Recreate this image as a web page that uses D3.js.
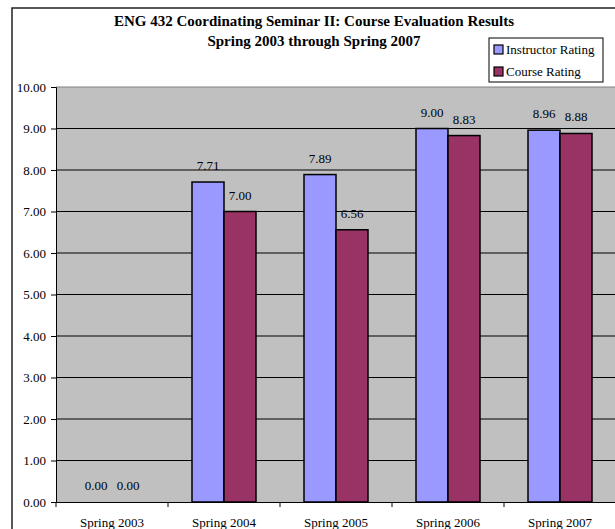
<!DOCTYPE html>
<html>
<head>
<meta charset="utf-8">
<script src="https://cdn.jsdelivr.net/npm/d3@7"></script>
<style>
  body { margin: 0; background: #fff; }
  svg { display: block; font-family: "Liberation Serif", "Times New Roman", serif; }
</style>
</head>
<body>
<svg id="chart"></svg>
<script>
const semesters = ["Spring 2003", "Spring 2004", "Spring 2005", "Spring 2006", "Spring 2007"];
const seriesNames = ["Instructor Rating", "Course Rating"];
const instructorRating = [0.00, 7.71, 7.89, 9.00, 8.96];
const courseRating = [0.00, 7.00, 6.56, 8.83, 8.88];
const yTicks = [0, 1, 2, 3, 4, 5, 6, 7, 8, 9, 10];
const colors = ["#9999FF", "#993366"];

const width = 615, height = 529;
const plot = { left: 56, right: 616, top: 87, bottom: 502 };

const svg = d3.select("#chart").attr("width", width).attr("height", height);

// outer chart border
svg.append("rect")
  .attr("x", 12).attr("y", 8)
  .attr("width", 700).attr("height", 600)
  .attr("fill", "#fff").attr("stroke", "#222").attr("stroke-width", 1.5);

const x0 = d3.scaleBand().domain(semesters).range([plot.left, plot.right]).padding(0);
const x1 = d3.scaleBand().domain(seriesNames).range([24, 88]).padding(0);
const y = d3.scaleLinear().domain([0, 10]).range([plot.bottom, plot.top]);

// plot area
svg.append("rect")
  .attr("x", plot.left).attr("y", plot.top)
  .attr("width", plot.right - plot.left).attr("height", plot.bottom - plot.top)
  .attr("fill", "#C0C0C0");

// gridlines
svg.append("g")
  .selectAll("line")
  .data(yTicks.slice(1))
  .join("line")
  .attr("x1", plot.left).attr("x2", plot.right)
  .attr("y1", d => y(d)).attr("y2", d => y(d))
  .attr("stroke", d => d === 10 ? "#808080" : "#000")
  .attr("stroke-width", 1);

// y axis
const yAxis = svg.append("g")
  .attr("transform", `translate(${plot.left},0)`)
  .call(d3.axisLeft(y).tickValues(yTicks).tickFormat(d3.format(".2f")).tickSize(5).tickPadding(5));
yAxis.select(".domain").attr("stroke", "#000");
yAxis.selectAll(".tick line").attr("stroke", "#000");
yAxis.selectAll("text").attr("font-size", 13).attr("font-family", "Liberation Serif").attr("fill", "#000");

// bars
const data = semesters.map((s, i) => ({ sem: s, values: [instructorRating[i], courseRating[i]] }));

const groups = svg.append("g")
  .selectAll("g")
  .data(data)
  .join("g")
  .attr("transform", d => `translate(${x0(d.sem)},0)`);

groups.selectAll("rect")
  .data(d => d.values.map((v, j) => ({ name: seriesNames[j], v: v, j: j })))
  .join("rect")
  .filter(d => d.v > 0)
  .attr("x", d => x1(d.name))
  .attr("y", d => y(d.v))
  .attr("width", x1.bandwidth())
  .attr("height", d => y(0) - y(d.v))
  .attr("fill", d => colors[d.j])
  .attr("stroke", "#000")
  .attr("stroke-width", 1.5);

groups.selectAll("text")
  .data(d => d.values.map((v, j) => ({ name: seriesNames[j], v: v })))
  .join("text")
  .attr("x", d => x1(d.name) + x1.bandwidth() / 2)
  .attr("y", d => y(d.v) - 12)
  .attr("text-anchor", "middle")
  .attr("font-size", 13)
  .text(d => d3.format(".2f")(d.v));

// x axis
const xAxis = svg.append("g")
  .attr("transform", `translate(0,${plot.bottom})`)
  .call(d3.axisBottom(x0).tickSize(0).tickPadding(0));
xAxis.select(".domain").attr("stroke", "#000");
xAxis.selectAll("text")
  .attr("dy", null).attr("y", 25)
  .attr("font-size", 13).attr("font-family", "Liberation Serif").attr("fill", "#000");
xAxis.selectAll(".sep")
  .data(semesters)
  .join("line")
  .attr("class", "sep")
  .attr("x1", d => x0(d)).attr("x2", d => x0(d))
  .attr("y1", 0).attr("y2", 5)
  .attr("stroke", "#000");

// title
const title = svg.append("text")
  .attr("text-anchor", "middle")
  .attr("font-weight", "bold")
  .attr("font-size", 15);
title.append("tspan").attr("x", 314).attr("y", 26).text("ENG 432 Coordinating Seminar II: Course Evaluation Results");
title.append("tspan").attr("x", 314).attr("y", 46).text("Spring 2003 through Spring 2007");

// legend
const legend = svg.append("g").attr("transform", "translate(489,38)");
legend.append("rect")
  .attr("width", 114).attr("height", 44)
  .attr("fill", "#fff").attr("stroke", "#000").attr("stroke-width", 1);
const items = legend.selectAll(".item")
  .data(seriesNames)
  .join("g")
  .attr("class", "item")
  .attr("transform", (d, i) => `translate(5,${7 + i * 22})`);
items.append("rect")
  .attr("width", 9).attr("height", 9)
  .attr("fill", (d, i) => colors[i])
  .attr("stroke", "#000").attr("stroke-width", 1.2);
items.append("text")
  .attr("x", 12).attr("y", 9)
  .attr("font-size", 13)
  .text(d => d);
</script>
</body>
</html>
